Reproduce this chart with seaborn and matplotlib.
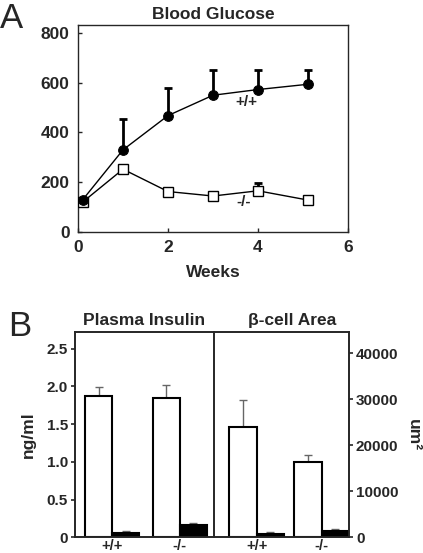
import numpy as np
import pandas as pd
import seaborn as sns
import matplotlib.pyplot as plt

# Panel A: blood glucose over time
weeks = [0.1, 1, 2, 3, 4, 5.1]
glucose_wt = [127, 329, 467, 549, 572, 593]
glucose_wt_err = [0, 124, 112, 101, 78, 57]
glucose_ko = [118, 251, 161, 143, 164, 127]
glucose_ko_err = [0, 0, 14, 0, 31, 0]

# Panel B: plasma insulin and beta-cell area
genotypes = ["+/+", "-/-"]
insulin_open = [1.875, 1.85]
insulin_open_err = [0.12, 0.17]
insulin_solid = [0.053, 0.163]
insulin_solid_err = [0.035, 0.022]
area_open = [23980, 16300]
area_open_err = [5800, 1590]
area_solid = [720, 1300]
area_solid_err = [500, 480]

sns.set_style("ticks")
plt.rcParams["font.family"] = ["Liberation Sans", "DejaVu Sans"]
plt.rcParams["font.weight"] = "bold"

W, H = 423, 553
fig = plt.figure(figsize=(W / 100, H / 100), dpi=100)

# ---------- Panel A ----------
axA = fig.add_axes([78 / W, 1 - 231.5 / H, 270 / W, 206.5 / H])
axA.errorbar(weeks, glucose_wt, yerr=[np.zeros(6), glucose_wt_err], fmt="none",
             ecolor="black", elinewidth=2, capsize=3, capthick=2, zorder=2)
axA.errorbar(weeks, glucose_ko, yerr=[np.zeros(6), glucose_ko_err], fmt="none",
             ecolor="black", elinewidth=2, capsize=3, capthick=2, zorder=2)
sns.lineplot(x=weeks, y=glucose_ko, ax=axA, color="black", lw=1, marker="s",
             markersize=7.3, markerfacecolor="white", markeredgecolor="black",
             markeredgewidth=1, zorder=3)
sns.lineplot(x=weeks, y=glucose_wt, ax=axA, color="black", lw=1, marker="o",
             markersize=7, markerfacecolor="black", markeredgecolor="black", zorder=4)
axA.text(3.75, 522, "+/+", ha="center", va="center", fontsize=11, fontweight="bold")
axA.text(3.67, 117, "-/-", ha="center", va="center", fontsize=11, fontweight="bold")
axA.set_xlim(0, 6)
axA.set_ylim(0, 832)
axA.set_xticks([0, 2, 4, 6])
axA.set_yticks([0, 200, 400, 600, 800])
axA.tick_params(direction="in", length=3, width=1, labelsize=12.5, pad=6)
axA.set_title("Blood Glucose", fontsize=12.5, fontweight="bold", pad=4)
axA.set_xlabel("Weeks", fontsize=12.5, fontweight="bold", labelpad=7)
for s in axA.spines.values():
    s.set_linewidth(1)
    s.set_visible(True)

# ---------- Panel B ----------
bottom = 1 - 537.3 / H
height = 205 / H
axB1 = fig.add_axes([75 / W, bottom, 138.7 / W, height])
axB2 = fig.add_axes([213.7 / W, bottom, 135.3 / W, height])

palette = {"open": "white", "filled": "black"}


def bar_panel(ax, open_vals, open_err, solid_vals, solid_err, width):
    df = pd.DataFrame({
        "genotype": genotypes * 2,
        "bar": ["open"] * 2 + ["filled"] * 2,
        "value": open_vals + solid_vals,
    })
    sns.barplot(data=df, x="genotype", y="value", hue="bar", hue_order=["open", "filled"],
                palette=palette, edgecolor="black", linewidth=1.5, width=width,
                errorbar=None, legend=False, ax=ax)
    for container, errs in zip(ax.containers, [open_err, solid_err]):
        for bar, e in zip(container, errs):
            x = bar.get_x() + bar.get_width() / 2
            ax.errorbar(x, bar.get_height(), yerr=[[0], [e]], fmt="none", ecolor="#666666",
                        elinewidth=1, capsize=3, capthick=1, zorder=0.9)
    ax.set_xlabel("")
    ax.tick_params(axis="x", length=0, labelsize=10.5, pad=1)
    for s in ax.spines.values():
        s.set_linewidth(1.4)
        s.set_visible(True)


bar_panel(axB1, insulin_open, insulin_open_err, insulin_solid, insulin_solid_err, 0.8)
axB1.set_xlim(-0.55, 1.5)
axB1.set_ylim(0, 2.715)
axB1.set_yticks([0, 0.5, 1, 1.5, 2, 2.5])
axB1.set_yticklabels(["0", "0.5", "1.0", "1.5", "2.0", "2.5"])
axB1.tick_params(axis="y", direction="out", length=3, width=1.2, labelsize=11, pad=2)
axB1.set_ylabel("ng/ml", fontsize=12.5, fontweight="bold", labelpad=8)
axB1.set_title("Plasma Insulin", fontsize=12.5, fontweight="bold", pad=5)
axB1.spines["right"].set_visible(False)

bar_panel(axB2, area_open, area_open_err, area_solid, area_solid_err, 0.84)
axB2.set_xlim(-0.66, 1.42)
axB2.set_ylim(0, 44570)
axB2.set_yticks([0, 10000, 20000, 30000, 40000])
axB2.yaxis.tick_right()
axB2.yaxis.set_label_position("right")
axB2.tick_params(axis="y", direction="out", length=3, width=1.2, labelsize=11, pad=2)
axB2.set_ylabel("um²", fontsize=12.5, fontweight="bold", rotation=270, labelpad=16)
axB2.set_title("β-cell Area", fontsize=12.5, fontweight="bold", pad=5, x=0.58)

# panel letters
fig.text(0.0, 1 - 19 / H, "A", fontsize=25, fontweight="normal", va="center", ha="left")
fig.text(0.02, 1 - 327 / H, "B", fontsize=25, fontweight="normal", va="center", ha="left")

plt.savefig("out.png", dpi=100)
